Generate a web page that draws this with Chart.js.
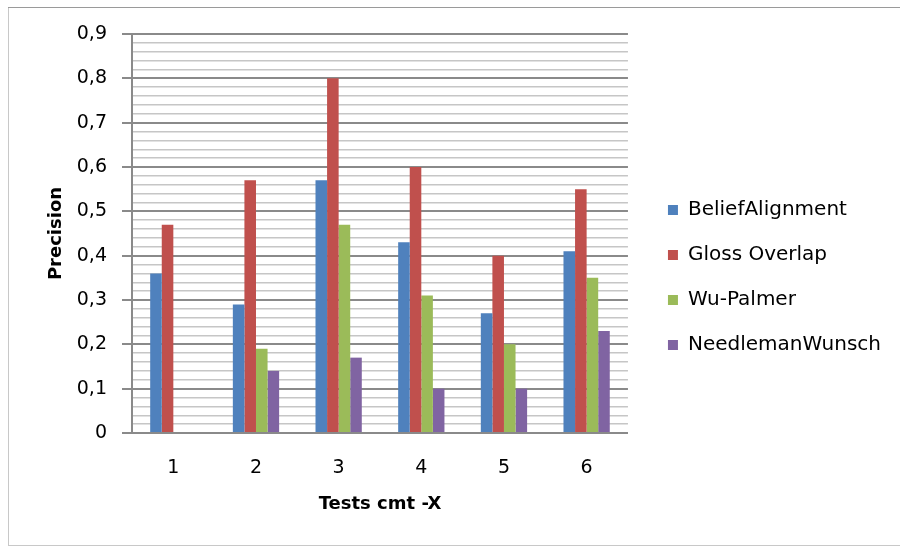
<!DOCTYPE html>
<html>
<head>
<meta charset="utf-8">
<script src="https://cdn.jsdelivr.net/npm/chart.js@4.4.0/dist/chart.umd.min.js"></script>
<style>
  html, body { margin: 0; padding: 0; background: #fff; }
  #wrap { width: 900px; height: 548px; position: relative; }
</style>
</head>
<body>
<div id="wrap"><canvas id="c" width="900" height="548"></canvas></div>
<script>
// ---- data ----
const categories = ['1', '2', '3', '4', '5', '6'];
const seriesNames = ['BeliefAlignment', 'Gloss Overlap', 'Wu-Palmer', 'NeedlemanWunsch'];
const beliefAlignment = [0.36, 0.29, 0.57, 0.43, 0.27, 0.41];
const glossOverlap    = [0.47, 0.57, 0.80, 0.60, 0.40, 0.55];
const wuPalmer        = [null, 0.19, 0.47, 0.31, 0.20, 0.35];
const needlemanWunsch = [null, 0.14, 0.17, 0.10, 0.10, 0.23];
const yMin = 0, yMax = 0.9, yMajorStep = 0.1, yMinorStep = 0.02;
const xTitle = 'Tests cmt -X';
const yTitle = 'Precision';

// ---- styles ----
const colors = ['#4F81BD', '#C0504D', '#9BBB59', '#8064A2'];
const FONT = 'DejaVu Sans';
const majorColor = '#8a8a8a';
const minorColor = '#c6c6c6';

function isMajor(v) {
  const k = v / yMajorStep;
  return Math.abs(k - Math.round(k)) < 1e-6;
}

const framePlugin = {
  id: 'frame',
  beforeDraw(chart) {
    const c = chart.ctx;
    c.save();
    c.fillStyle = '#ffffff';
    c.fillRect(0, 0, chart.width, chart.height);
    c.strokeStyle = '#c8c8c8';
    c.lineWidth = 1;
    c.strokeRect(8.5, 7.5, chart.width, 538);
    c.strokeStyle = '#9a9a9a';
    c.beginPath(); c.moveTo(8, 7.5); c.lineTo(chart.width, 7.5); c.stroke();
    c.restore();
  }
};

const allSeries = [beliefAlignment, glossOverlap, wuPalmer, needlemanWunsch];

new Chart(document.getElementById('c'), {
  type: 'bar',
  data: {
    labels: categories,
    datasets: allSeries.map((d, i) => ({
      label: seriesNames[i],
      data: d,
      backgroundColor: colors[i],
      borderWidth: 0,
      categoryPercentage: 0.56,
      barPercentage: 1.0
    }))
  },
  options: {
    responsive: false,
    devicePixelRatio: 1,
    animation: false,
    layout: { padding: { left: 0, top: 34, right: 9, bottom: 27 } },
    plugins: {
      tooltip: { enabled: false },
      legend: {
        position: 'right',
        align: 'center',
        maxWidth: 320,
        labels: {
          boxWidth: 10,
          boxHeight: 10,
          padding: 25,
          color: '#000',
          font: { family: FONT, size: 20 }
        }
      }
    },
    scales: {
      x: {
        type: 'category',
        grid: { display: false, drawTicks: false },
        border: { display: true, color: majorColor, width: 2 },
        ticks: { color: '#000', padding: 24, font: { family: FONT, size: 19 } },
        title: {
          display: true, text: xTitle, color: '#000',
          font: { family: FONT, size: 18, weight: 'bold' },
          padding: { top: 0, bottom: 6 }
        },
        afterFit: s => { s.height = 88; }
      },
      y: {
        type: 'linear',
        position: 'left',
        min: yMin,
        max: yMax,
        grid: {
          color: ctx => isMajor(ctx.tick.value) ? majorColor : minorColor,
          lineWidth: ctx => isMajor(ctx.tick.value) ? 2 : 1.5,
          tickColor: ctx => isMajor(ctx.tick.value) ? majorColor : 'rgba(0,0,0,0)',
          tickLength: 10,
          drawTicks: true
        },
        border: { display: true, color: majorColor, width: 2 },
        ticks: {
          stepSize: yMinorStep,
          autoSkip: false,
          padding: 15,
          color: '#000',
          font: { family: FONT, size: 19 },
          callback: v => {
            if (!isMajor(v)) return '';
            const r = Math.round(v * 10) / 10;
            return r === 0 ? '0' : r.toFixed(1).replace('.', ',');
          }
        },
        title: {
          display: true, text: yTitle, color: '#000',
          font: { family: FONT, size: 18, weight: 'bold' },
          padding: { top: 46, bottom: 0 }
        },
        afterFit: s => { s.width = 132; }
      },
      y2: {
        type: 'linear',
        position: 'right',
        display: true,
        grid: { display: false, drawTicks: false },
        border: { display: false },
        ticks: { display: false },
        afterFit: s => { s.width = 15; }
      }
    }
  },
  plugins: [framePlugin]
});
</script>
</body>
</html>
